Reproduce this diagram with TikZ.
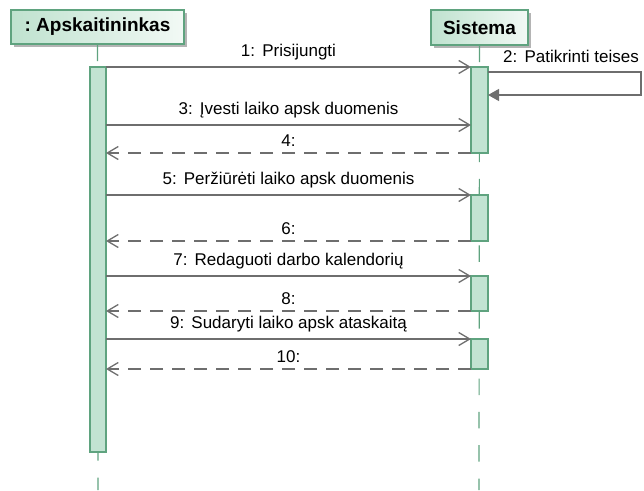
\documentclass[tikz,border=0pt]{standalone}
\usepackage{fontspec}
\setmainfont{Liberation Sans}
\usetikzlibrary{arrows.meta}
\definecolor{boxedge}{HTML}{5FA37F}
\definecolor{barfill}{HTML}{C2E3D2}
\definecolor{headtop}{HTML}{BFE2CF}
\definecolor{headend}{HTML}{F2F9F5}
\definecolor{msgline}{HTML}{6E6E6E}
\definecolor{shadowc}{HTML}{B4B4B4}
\newcommand{\colsep}{\hspace{0.42em}}
\tikzset{
  x=1pt, y=-1pt,
  header/.style={draw=boxedge, line width=1.2pt, left color=headtop, right color=headend,
    shading angle=90, inner sep=0pt, font=\fontsize{19}{21}\selectfont\bfseries},
  lifeline/.style={draw=boxedge, line width=1.2pt, dash pattern=on 16.5pt off 16.8pt},
  actbar/.style={draw=boxedge, fill=barfill, line width=1.2pt, inner sep=0pt},
  msg/.style={draw=msgline, line width=1.3pt, -{Straight Barb[length=11pt,width=13pt,line width=1.3pt]}},
  reply/.style={msg, dash pattern=on 13pt off 9pt},
  selfmsg/.style={draw=msgline, line width=1.3pt, -{Triangle[length=11pt,width=12pt]}},
  lbl/.style={font=\fontsize{17}{19}\selectfont, inner sep=0pt, anchor=base},
}
\begin{document}
\begin{tikzpicture}
\useasboundingbox (0,0) rectangle (644,490);

% header shadows
\fill[shadowc] (14,13) rectangle (187,47);
\fill[shadowc] (434,13) rectangle (531,48);

% lifeline headers
\node[header, minimum width=173pt, minimum height=34pt] (actor) at (97.5,27) {:~Apskaitininkas};
\node[header, minimum width=97pt, minimum height=35pt] (sys) at (479.5,27.5) {Sistema};

% lifelines
\coordinate (actorEnd) at (98,490);
\coordinate (sysEnd) at (479,490);
\draw[lifeline] (actor.south) -- (actorEnd);
\draw[lifeline] (sys.south) -- (sysEnd);

% activation bars
\node[actbar, minimum width=16pt, minimum height=385pt] (aA) at (98,259.5) {};
\node[actbar, minimum width=17pt, minimum height=86pt] (s1) at (479.5,110) {};
\node[actbar, minimum width=17pt, minimum height=46pt] (s2) at (479.5,218) {};
\node[actbar, minimum width=17pt, minimum height=35pt] (s3) at (479.5,293.5) {};
\node[actbar, minimum width=17pt, minimum height=30pt] (s4) at (479.5,354) {};

% message end points
\foreach \n/\y in {1/67,3/125,4/153,5/195,6/241,7/276,8/311,9/339,10/369}{
  \coordinate (L\n) at (106,\y);
  \coordinate (R\n) at (471,\y);
}
\coordinate (selfA) at (488,72);
\coordinate (selfB) at (641,72);
\coordinate (selfC) at (641,95);
\coordinate (selfD) at (488,95);

% calls
\draw[msg] (L1) -- (R1) node[lbl, midway, above=6pt] {1:\colsep Prisijungti};
\draw[msg] (L3) -- (R3) node[lbl, midway, above=6pt] {3:\colsep Įvesti laiko apsk duomenis};
\draw[msg] (L5) -- (R5) node[lbl, midway, above=6pt] {5:\colsep Peržiūrėti laiko apsk duomenis};
\draw[msg] (L7) -- (R7) node[lbl, midway, above=6pt] {7:\colsep Redaguoti darbo kalendorių};
\draw[msg] (L9) -- (R9) node[lbl, midway, above=6pt] {9:\colsep Sudaryti laiko apsk ataskaitą};

% replies
\draw[reply] (R4) -- (L4) node[lbl, midway, above=6pt] {4:};
\draw[reply] (R6) -- (L6) node[lbl, midway, above=6pt] {6:};
\draw[reply] (R8) -- (L8) node[lbl, midway, above=6pt] {8:};
\draw[reply] (R10) -- (L10) node[lbl, midway, above=6pt] {10:};

% self call
\draw[selfmsg] (selfA) -- (selfB) -- (selfC) -- (selfD);
\node[lbl, anchor=base west] (selflbl) at (503,62) {2:\colsep Patikrinti teises};
\end{tikzpicture}
\end{document}
